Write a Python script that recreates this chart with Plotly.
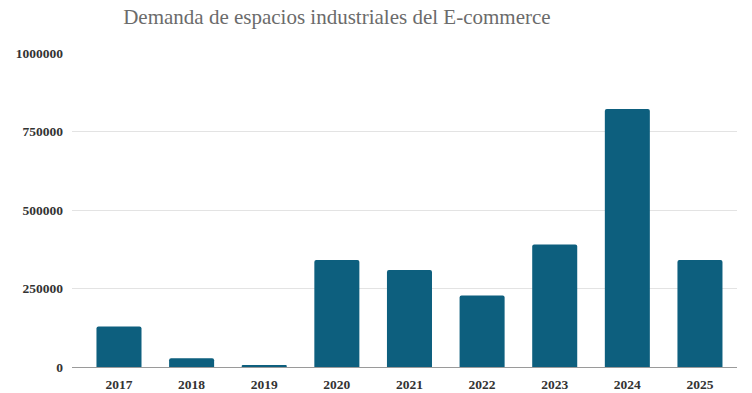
import plotly.graph_objects as go

# Demanda anual de espacios industriales ligada al comercio electrónico
years = ["2017", "2018", "2019", "2020", "2021", "2022", "2023", "2024", "2025"]
demand = [129000, 28000, 5000, 341000, 309000, 228000, 390000, 822000, 341000]
y_ticks = [0, 250000, 500000, 750000, 1000000]

bar_color = "#0d5f7e"
serif = "Liberation Serif, Times New Roman, serif"

fig = go.Figure(
    go.Bar(
        x=list(range(len(years))),
        y=demand,
        marker=dict(color=bar_color, line=dict(width=0), cornerradius=2),
        width=0.62,
    )
)

fig.update_layout(
    width=752,
    height=393,
    margin=dict(l=72, r=15, t=53, b=26),
    paper_bgcolor="white",
    plot_bgcolor="white",
    showlegend=False,
    title=dict(
        text="Demanda de espacios industriales del E-commerce",
        x=0.448,
        xanchor="center",
        y=0.958,
        yanchor="middle",
        font=dict(family=serif, size=21, color="#6b6b6b"),
    ),
    xaxis=dict(
        tickmode="array",
        tickvals=list(range(len(years))),
        ticktext=[f"<b>{y}</b>" for y in years],
        range=[-0.647, 8.51],
        showgrid=False,
        showline=True,
        linecolor="#9a9a9a",
        linewidth=1,
        ticks="",
        ticklabelstandoff=5,
        automargin=False,
        tickfont=dict(family=serif, size=13.5, color="#333333"),
    ),
    yaxis=dict(
        range=[0, 1000000],
        tickmode="array",
        tickvals=y_ticks,
        ticktext=[f"<b>{v}</b>" for v in y_ticks],
        showgrid=True,
        gridcolor="#e3e3e3",
        gridwidth=1,
        zeroline=False,
        showline=False,
        ticks="",
        ticklabelstandoff=8,
        automargin=False,
        tickfont=dict(family=serif, size=13.5, color="#333333"),
    ),
)

fig.write_html("out.html")
